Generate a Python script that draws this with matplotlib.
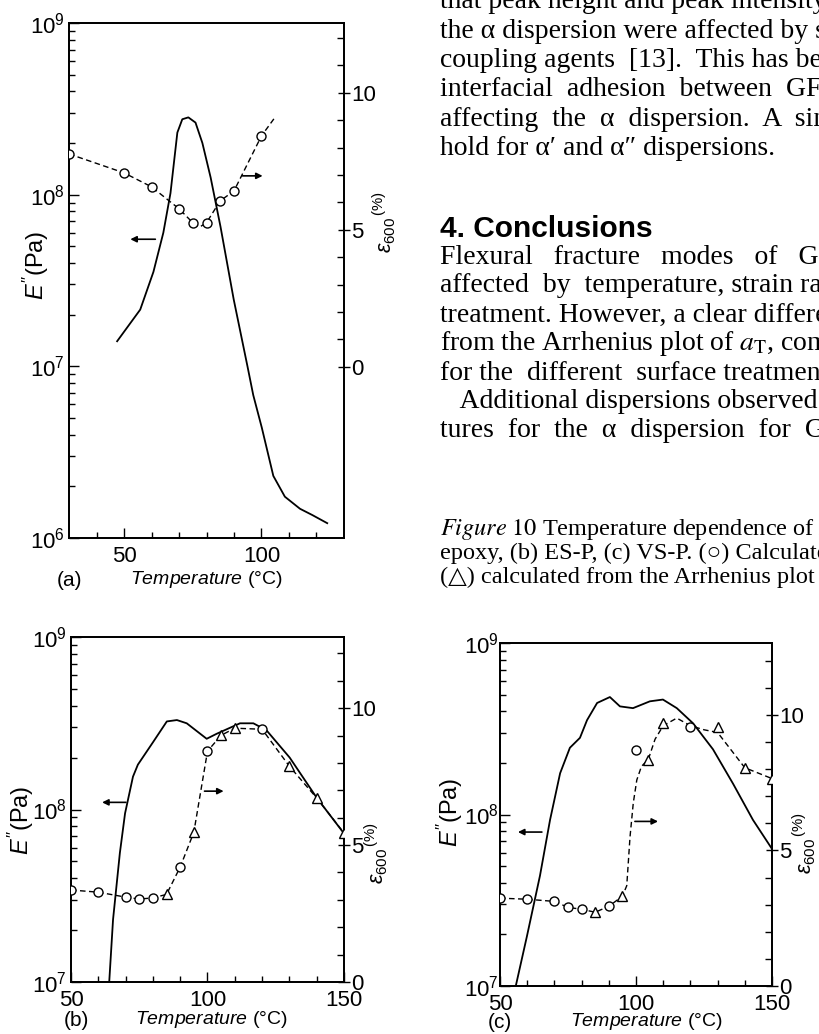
import numpy as np
import matplotlib
matplotlib.use('Agg')
import matplotlib.pyplot as plt
from matplotlib.ticker import FixedLocator, FuncFormatter, NullFormatter

plt.rcParams['font.family'] = ['Liberation Sans', 'DejaVu Sans']
plt.rcParams['mathtext.fontset'] = 'custom'
plt.rcParams['mathtext.rm'] = 'Liberation Sans'
plt.rcParams['mathtext.it'] = 'Liberation Sans:italic'

W, H = 819, 1034

# ---- panel (a): neat epoxy ----
a_T = [47.5, 55.9, 60.7, 64.3, 66.9, 69.4, 71.2, 73.4, 76.0, 78.5, 81.5, 85.1,
       89.9, 94.9, 97.0, 100.1, 104.3, 108.5, 114.0, 118.5, 123.9]
a_E = [1.4e7, 2.14e7, 3.55e7, 6.0e7, 1.02e8, 2.3e8, 2.75e8, 2.82e8, 2.63e8, 2.0e8,
       1.26e8, 6.5e7, 2.45e7, 1.0e7, 6.8e6, 4.4e6, 2.3e6, 1.74e6, 1.48e6, 1.36e6, 1.22e6]
a_circ_T = [30, 50, 60, 70, 75, 80, 85, 90, 100]
a_circ_eps = [7.77, 7.08, 6.57, 5.77, 5.26, 5.26, 6.06, 6.42, 8.43]
a_dash_T = [30, 50, 60, 70, 75, 77.5, 80, 85, 90, 100, 104.5]
a_dash_eps = [7.77, 7.08, 6.57, 5.77, 5.26, 5.1, 5.26, 6.06, 6.42, 8.43, 9.05]

# ---- panel (b): ES-P ----
b_T = [64.0, 65.4, 67.9, 69.8, 72.7, 74.5, 80.0, 85.1, 88.8, 92.4, 99.7, 103.4,
       111.9, 116.8, 121.6, 130.1, 140.0, 149.6]
b_E = [1.0e7, 2.3e7, 5.6e7, 9.5e7, 1.55e8, 1.82e8, 2.45e8, 3.24e8, 3.3e8, 3.16e8,
       2.57e8, 2.75e8, 3.16e8, 3.16e8, 2.88e8, 2.0e8, 1.17e8, 7.4e7]
b_circ_T = [50, 60, 70, 75, 80, 90, 100, 120]
b_circ_eps = [3.36, 3.28, 3.10, 3.03, 3.07, 4.2, 8.43, 9.23]
b_tri_T = [85, 95, 105, 110, 130, 140, 150]
b_tri_eps = [3.2, 5.47, 9.01, 9.27, 7.88, 6.72, 5.44]

# ---- panel (c): VS-P ----
c_T = [55.8, 59.9, 64.7, 68.4, 72.1, 75.7, 79.4, 82.0, 85.7, 90.4, 94.1, 98.9,
       105.1, 109.9, 115.0, 121.0, 128.3, 135.7, 143.0, 150.0]
c_E = [1.0e7, 1.95e7, 4.4e7, 9.3e7, 1.74e8, 2.45e8, 2.8e8, 3.55e8, 4.47e8, 4.84e8,
       4.27e8, 4.17e8, 4.57e8, 4.68e8, 4.17e8, 3.4e8, 2.4e8, 1.51e8, 9.3e7, 6.3e7]
c_circ_T = [50, 60, 70, 75, 80, 90, 100, 120]
c_circ_eps = [3.24, 3.2, 3.12, 2.9, 2.83, 2.94, 8.71, 9.56]
c_tri_T = [85, 95, 104.5, 110, 130, 140, 150]
c_tri_eps = [2.72, 3.31, 8.35, 9.7, 9.56, 8.05, 7.65]
c_dash_T = [50, 60, 70, 75, 80, 85, 90, 95, 96.6, 97.8, 99.0, 100.3, 102.0, 104.5,
            107, 110, 115, 120, 125, 130, 140, 150]
c_dash_eps = [3.24, 3.2, 3.12, 2.9, 2.83, 2.72, 2.94, 3.31, 3.7, 5.5, 6.75, 7.6, 8.1,
              8.35, 9.1, 9.6, 9.88, 9.6, 9.45, 9.35, 8.05, 7.65]

# body text of the page (right column), spaces widened like the justified original
body_lines = [
    "that peak height and peak intensity of",
    "the \u03b1 dispersion were affected by silane",
    "coupling agents  [13].  This has been",
    "interfacial  adhesion  between  GF and",
    "affecting  the  \u03b1  dispersion.  A  similar",
    "hold for \u03b1\u2032 and \u03b1\u2033 dispersions.",
]
body_lines2 = [
    "Flexural   fracture   modes   of   GF/epoxy",
    "affected  by  temperature, strain rate",
    "treatment. However, a clear difference",
    r"from the Arrhenius plot of $a_{\mathrm{T}}$, compared",
    "for the  different  surface treatments.",
    "   Additional dispersions observed",
    "tures  for  the  \u03b1  dispersion  for  GF",
]
caption_lines = [
    r"$\mathit{Figure\ 10}$ Temperature dependence of $E''$",
    "epoxy, (b) ES-P, (c) VS-P. (\u25cb) Calculated",
    "(\u25b3) calculated from the Arrhenius plot of",
]

fig = plt.figure(figsize=(W / 100, H / 100), dpi=100)


def px_axes(left, top, right, bottom):
    return fig.add_axes([left / W, 1 - bottom / H, (right - left) / W, (bottom - top) / H])


def ftext(x, y, s, **kw):
    fig.text(x / W, 1 - y / H, s, **kw)


def decade(v, pos):
    return r"$10^{%d}$" % int(round(np.log10(v)))


def style_panel(ax, ax2, xlim, ylim, eps_lim, xmajor, xminor):
    ax.set_xlim(*xlim)
    ax.set_yscale('log')
    ax.set_ylim(*ylim)
    ax.xaxis.set_major_locator(FixedLocator(xmajor))
    ax.xaxis.set_minor_locator(FixedLocator(xminor))
    ax.yaxis.set_major_formatter(FuncFormatter(decade))
    ax.yaxis.set_minor_formatter(NullFormatter())
    ax.tick_params(which='both', direction='in', top=False, right=False,
                   labelsize=16, width=1.0)
    ax.tick_params(which='major', length=7, pad=6)
    ax.tick_params(which='minor', length=4)
    ax.tick_params(axis='y', which='major', pad=3)
    ax2.set_ylim(*eps_lim)
    ax2.yaxis.set_major_locator(FixedLocator([0, 5, 10]))
    ax2.yaxis.set_minor_locator(FixedLocator([1, 2, 3, 4, 6, 7, 8, 9, 11, 12]))
    ax2.yaxis.set_major_formatter(FuncFormatter(lambda v, p: "%d" % v))
    ax2.tick_params(axis='y', which='major', direction='inout', length=8, width=1.0,
                    labelsize=16, pad=1)
    ax2.tick_params(axis='y', which='minor', direction='in', length=5, width=1.0)
    for a in (ax, ax2):
        for sp in a.spines.values():
            sp.set_linewidth(1.3)


def arrow(ax, x0, x1, y):
    ax.annotate('', xy=(x1, y), xytext=(x0, y),
                arrowprops=dict(arrowstyle='-|>', color='k', lw=1.2,
                                mutation_scale=9, shrinkA=0, shrinkB=0))


dash = dict(color='k', lw=1.0, dashes=(4, 2.5))
circ = dict(ls='none', marker='o', ms=6.5, mfc='white', mec='k', mew=1.0, zorder=5)
tri = dict(ls='none', marker='^', ms=7, mfc='white', mec='k', mew=1.0, zorder=5)

# panel (a)
axa = px_axes(69, 23, 344, 538)
axa2 = axa.twinx()
style_panel(axa, axa2, (30, 130), (1e6, 1e9), (-6.25, 12.55),
            [50, 100], [40, 60, 70, 80, 90, 110, 120])
axa.plot(a_T, a_E, color='k', lw=1.3)
axa2.plot(a_dash_T, a_dash_eps, **dash)
axa2.plot(a_circ_T, a_circ_eps, **circ)
arrow(axa, 61.4, 52.3, 5.5e7)
arrow(axa2, 93.1, 100.4, 6.97)

# panel (b)
axb = px_axes(71, 637, 344, 982)
axb2 = axb.twinx()
style_panel(axb, axb2, (50, 150), (1e7, 1e9), (0, 12.6),
            [50, 100, 150], [60, 70, 80, 90, 110, 120, 130, 140])
axb.plot(b_T, b_E, color='k', lw=1.3)
b_all = sorted(zip(b_circ_T + b_tri_T, b_circ_eps + b_tri_eps))
axb2.plot([p[0] for p in b_all], [p[1] for p in b_all], **dash)
axb2.plot(b_circ_T, b_circ_eps, **circ)
axb2.plot(b_tri_T, b_tri_eps, **tri)
arrow(axb, 70.1, 61.4, 1.1e8)
arrow(axb2, 98.9, 105.9, 6.97)

# panel (c)
axc = px_axes(500, 643, 772, 986)
axc2 = axc.twinx()
style_panel(axc, axc2, (50, 150), (1e7, 1e9), (0, 12.65),
            [50, 100, 150], [60, 70, 80, 90, 110, 120, 130, 140])
axc.tick_params(axis='y', which='major', pad=1)
axc.plot(c_T, c_E, color='k', lw=1.3)
axc2.plot(c_dash_T, c_dash_eps, **dash)
axc2.plot(c_circ_T, c_circ_eps, **circ)
axc2.plot(c_tri_T, c_tri_eps, **tri)
arrow(axc, 65.4, 56.6, 7.9e7)
arrow(axc2, 99.6, 108.1, 6.07)

# axis labels placed in pixel positions
ylab = r"$E''$(Pa)"
elab = r"$\varepsilon_{600}$$^{\,(\%)}$"
for (xl, yl), (xe, ye) in [((36, 265), (384, 222)), ((21, 820), (376, 853)),
                           ((450, 812), (804, 843))]:
    ftext(xl, yl, ylab, rotation=90, ha='center', va='center', fontsize=17)
    ftext(xe, ye, elab, rotation=90, ha='center', va='center', fontsize=15.5)

xlab = r"$\mathit{Temperature}$ (°C)"
for tag, xt, xs, yv in [("(a)", 70, 130, 580), ("(b)", 76, 135, 1020), ("(c)", 500, 570, 1022)]:
    ftext(xt, yv, tag, ha='center', va='center', fontsize=15)
    ftext(xs, yv, xlab, ha='left', va='center', fontsize=14)

# right column text
serif = ['Liberation Serif', 'DejaVu Serif']
y = 8
for line in body_lines:
    ftext(440, y, line, family=serif, fontsize=20, va='baseline', ha='left',
          math_fontfamily='stix')
    y += 29.5
ftext(440, 237, "4. Conclusions", fontsize=21.5, fontweight='bold', va='baseline', ha='left')
y = 263.5
for line in body_lines2:
    ftext(440, y, line, family=serif, fontsize=20, va='baseline', ha='left',
          math_fontfamily='stix')
    y += 29
y = 536
for line in caption_lines:
    ftext(440, y, line, family=serif, fontsize=17.5, va='baseline', ha='left',
          math_fontfamily='stix')
    y += 23.5

fig.savefig('out.png', dpi=100)
